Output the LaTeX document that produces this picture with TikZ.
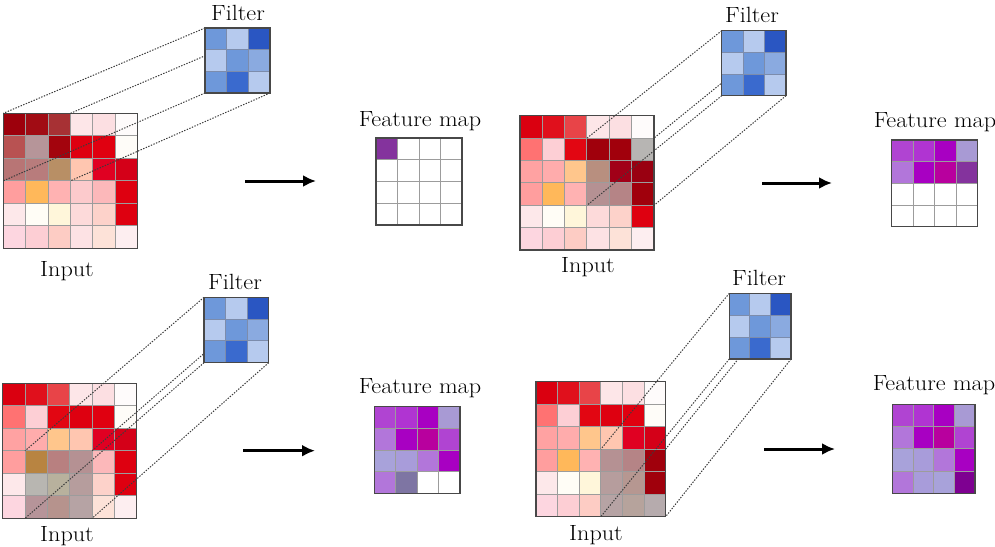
\documentclass[tikz,border=0pt]{standalone}
\usepackage{fontspec}
\setmainfont{Latin Modern Roman}[FakeStretch=1.1]
\usetikzlibrary{arrows.meta}
\pgfdeclarelayer{bg}
\pgfdeclarelayer{mid}
\pgfsetlayers{bg,mid,main}
% input base colours
\definecolor{i00}{HTML}{DA0010}\definecolor{i01}{HTML}{E0101C}\definecolor{i02}{HTML}{E84448}
\definecolor{i03}{HTML}{FDE6E8}\definecolor{i04}{HTML}{FCDFE2}\definecolor{i05}{HTML}{FEFBFB}
\definecolor{i10}{HTML}{FF7272}\definecolor{i11}{HTML}{FDCFD5}\definecolor{i12}{HTML}{E20612}
\definecolor{i13}{HTML}{DE0010}\definecolor{i14}{HTML}{E00010}\definecolor{i15}{HTML}{FEFCF8}
\definecolor{i20}{HTML}{FFA2A2}\definecolor{i21}{HTML}{FFACAC}\definecolor{i22}{HTML}{FFC68C}
\definecolor{i23}{HTML}{FFC6B0}\definecolor{i24}{HTML}{E00022}\definecolor{i25}{HTML}{D40018}
\definecolor{i30}{HTML}{FF9E9E}\definecolor{i31}{HTML}{FFB85A}\definecolor{i32}{HTML}{FFB2B2}
\definecolor{i33}{HTML}{FCCACC}\definecolor{i34}{HTML}{FCB8BA}\definecolor{i35}{HTML}{DE0010}
\definecolor{i40}{HTML}{FDE8EA}\definecolor{i41}{HTML}{FFFDF6}\definecolor{i42}{HTML}{FFF6DA}
\definecolor{i43}{HTML}{FDDADA}\definecolor{i44}{HTML}{FDD2CA}\definecolor{i45}{HTML}{DE0010}
\definecolor{i50}{HTML}{FDD6E0}\definecolor{i51}{HTML}{FDCED4}\definecolor{i52}{HTML}{FDCCC4}
\definecolor{i53}{HTML}{FDE2E4}\definecolor{i54}{HTML}{FDE2D8}\definecolor{i55}{HTML}{FDEEF0}
% filter colours
\definecolor{f00}{HTML}{6E98DA}\definecolor{f01}{HTML}{B6CAEE}\definecolor{f02}{HTML}{2A56C2}
\definecolor{f10}{HTML}{B6CAEE}\definecolor{f11}{HTML}{6E98DA}\definecolor{f12}{HTML}{8AAAE0}
\definecolor{f20}{HTML}{6E98DA}\definecolor{f21}{HTML}{3A6ACE}\definecolor{f22}{HTML}{B6CAEE}
% feature map colours
\definecolor{m00}{HTML}{B044D2}\definecolor{m01}{HTML}{B034D2}\definecolor{m02}{HTML}{A800C2}\definecolor{m03}{HTML}{A89AD4}
\definecolor{m10}{HTML}{B276DA}\definecolor{m11}{HTML}{A800C2}\definecolor{m12}{HTML}{B8009E}\definecolor{m13}{HTML}{B044D2}
\definecolor{m20}{HTML}{A8A2DA}\definecolor{m21}{HTML}{A89CDA}\definecolor{m22}{HTML}{B276DA}\definecolor{m23}{HTML}{A800C2}
\definecolor{m30}{HTML}{B276DA}\definecolor{m31}{HTML}{A89CDA}\definecolor{m32}{HTML}{A8A2DA}\definecolor{m33}{HTML}{A800C2}
\definecolor{innergrey}{HTML}{9C9C9C}
\definecolor{filtinner}{HTML}{7C8CAC}
\definecolor{bordergrey}{HTML}{484848}
\definecolor{dotgrey}{HTML}{3C3C3C}

\tikzset{
  box/.style={inner sep=0pt, outer sep=0pt, minimum size=0pt},
  inline/.style={draw=innergrey, line width=1pt},
  finline/.style={draw=filtinner, line width=1pt},
  border/.style={draw=bordergrey, line width=1.4pt},
  conn/.style={draw=dotgrey, line width=1pt, dash pattern=on 1.4pt off 1.4pt},
  flow/.style={-{Latex[length=13pt,width=12pt]}, line width=3pt},
  lbl/.style={anchor=base, inner sep=0pt, font=\fontsize{22}{26}\selectfont},
}

% #1 name, #2 x, #3 y, #4 cell w, #5 cell h, #6 region row, #7 region col
\newcommand\inputgrid[7]{%
  \begin{pgfonlayer}{bg}
  \foreach \rr in {0,...,5}{\foreach \cc in {0,...,5}{%
    \pgfmathtruncatemacro\shd{((\rr>=#6)&&(\rr<=#6+2)&&(\cc>=#7)&&(\cc<=#7+2)) ? 72 : 100}%
    \fill[fill=i\rr\cc!\shd!black] (#2+\cc*#4,#3+\rr*#5) rectangle ++(#4,#5);
  }}
  \foreach \kk in {1,...,5}{%
    \draw[inline] (#2+\kk*#4,#3) -- ++(0,6*#5);
    \draw[inline] (#2,#3+\kk*#5) -- ++(6*#4,0);
  }
  \node[box,border,anchor=north west,minimum width={6*#4*1pt},minimum height={6*#5*1pt}] (#1) at (#2,#3) {};
  \end{pgfonlayer}
  \node[box,anchor=north west,minimum width={3*#4*1pt},minimum height={3*#5*1pt}] (#1r) at (#2+#7*#4,#3+#6*#5) {};
}
% #1 name, #2 x, #3 y, #4 cell w, #5 cell h
\newcommand\filtergrid[5]{%
  \foreach \rr in {0,...,2}{\foreach \cc in {0,...,2}{%
    \fill[fill=f\rr\cc] (#2+\cc*#4,#3+\rr*#5) rectangle ++(#4,#5);
  }}
  \foreach \kk in {1,2}{%
    \draw[finline] (#2+\kk*#4,#3) -- ++(0,3*#5);
    \draw[finline] (#2,#3+\kk*#5) -- ++(3*#4,0);
  }
  \node[box,border,anchor=north west,minimum width={3*#4*1pt},minimum height={3*#5*1pt}] (#1) at (#2,#3) {};
}
% #1 name, #2 x, #3 y, #4 cell w, #5 cell h, #6 filled count
\newcommand\fmgrid[6]{%
  \foreach \rr in {0,...,3}{\foreach \cc in {0,...,3}{%
    \pgfmathtruncatemacro\kk{\rr*4+\cc}%
    \ifnum\kk<\numexpr#6-1\relax
      \def\fcol{m\rr\cc}%
    \else\ifnum\kk=\numexpr#6-1\relax
      \def\fcol{m\rr\cc!75!black}%
    \else
      \def\fcol{white}%
    \fi\fi
    \fill[fill=\fcol] (#2+\cc*#4,#3+\rr*#5) rectangle ++(#4,#5);
  }}
  \foreach \kk in {1,2,3}{%
    \draw[inline] (#2+\kk*#4,#3) -- ++(0,4*#5);
    \draw[inline] (#2,#3+\kk*#5) -- ++(4*#4,0);
  }
  \node[box,border,anchor=north west,minimum width={4*#4*1pt},minimum height={4*#5*1pt}] (#1) at (#2,#3) {};
}
\newcommand\projlines[2]{%
  \begin{pgfonlayer}{mid}
  \draw[conn] (#1.north west) -- (#2.north west);
  \draw[conn] (#1.north east) -- (#2.north east);
  \draw[conn] (#1.south west) -- (#2.south west);
  \draw[conn] (#1.south east) -- (#2.south east);
  \end{pgfonlayer}
}

\begin{document}
\begin{tikzpicture}[x=1pt,y=-1pt]
\useasboundingbox (0,0) rectangle (995,546);

% ---------- panel 1 ----------
\inputgrid{in1}{3.3}{113.3}{22.4}{22.5}{0}{0}
\filtergrid{fl1}{205}{28}{21.67}{21.67}
\projlines{fl1}{in1r}
\fmgrid{fm1}{376}{138}{21.5}{21.75}{1}
\coordinate (a1s) at (245,181); \coordinate (a1e) at (316,181);
\draw[flow] (a1s) -- (a1e);
\node[lbl] (t1f) at (238,20) {Filter};
\node[lbl] (t1i) at (67,276) {Input};
\node[lbl] (t1m) at (420,126.7) {Feature map};

% ---------- panel 2 ----------
\inputgrid{in2}{520}{115.7}{22.33}{22.4}{1}{3}
\filtergrid{fl2}{721.7}{30.7}{21.43}{21.67}
\projlines{fl2}{in2r}
\fmgrid{fm2}{891.7}{140}{21.5}{21.67}{8}
\coordinate (a2s) at (762,183); \coordinate (a2e) at (832,183);
\draw[flow] (a2s) -- (a2e);
\node[lbl] (t2f) at (752,22.7) {Filter};
\node[lbl] (t2i) at (588,272) {Input};
\node[lbl] (t2m) at (935,127.3) {Feature map};

% ---------- panel 3 ----------
\inputgrid{in3}{2.7}{383.3}{22.33}{22.5}{3}{1}
\filtergrid{fl3}{204}{297.3}{21.56}{21.8}
\projlines{fl3}{in3r}
\fmgrid{fm3}{374.3}{406.7}{21.4}{21.65}{14}
\coordinate (a3s) at (243,450.7); \coordinate (a3e) at (315,450.7);
\draw[flow] (a3s) -- (a3e);
\node[lbl] (t3f) at (235,289.3) {Filter};
\node[lbl] (t3i) at (67,541.7) {Input};
\node[lbl] (t3m) at (420,393.3) {Feature map};

% ---------- panel 4 ----------
\inputgrid{in4}{536}{381.7}{21.6}{22.5}{3}{3}
\filtergrid{fl4}{729.3}{293.3}{20.6}{21.9}
\projlines{fl4}{in4r}
\fmgrid{fm4}{892.3}{404.3}{20.7}{22.25}{16}
\coordinate (a4s) at (764,449); \coordinate (a4e) at (835,449);
\draw[flow] (a4s) -- (a4e);
\node[lbl] (t4f) at (759,285) {Filter};
\node[lbl] (t4i) at (596,540) {Input};
\node[lbl] (t4m) at (934,390) {Feature map};
\end{tikzpicture}
\end{document}
